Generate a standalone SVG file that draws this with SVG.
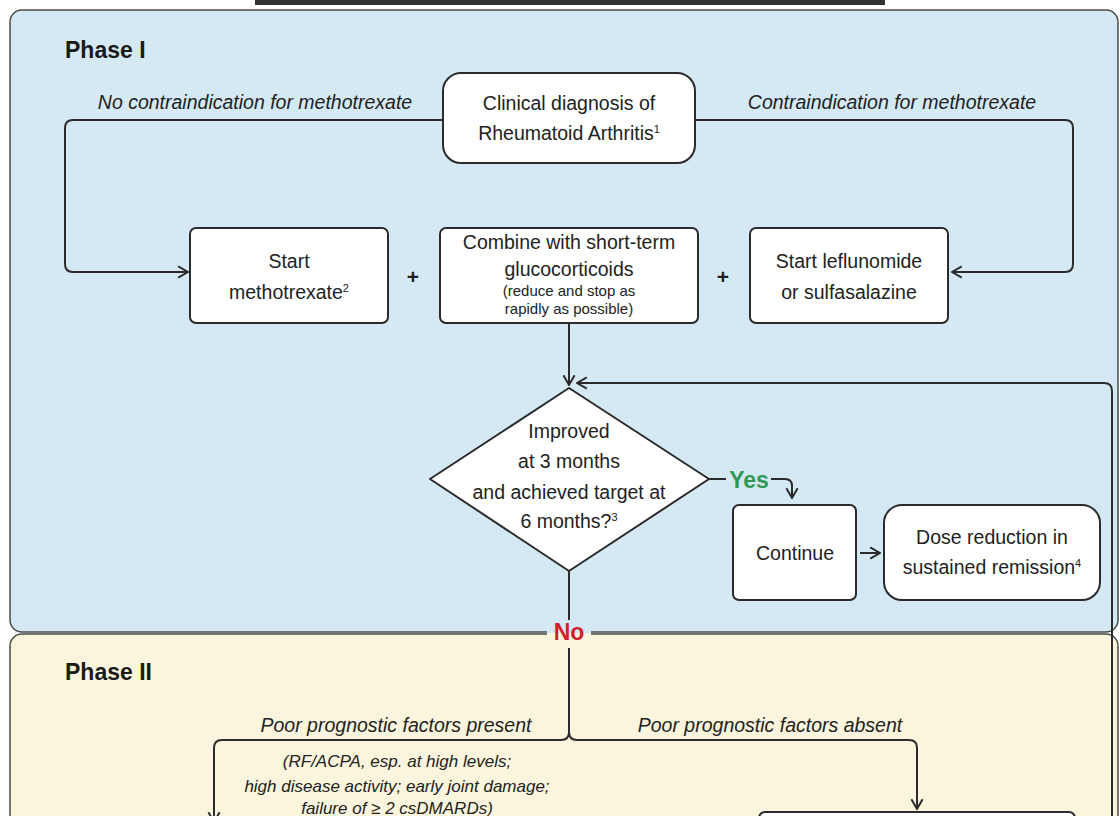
<svg xmlns="http://www.w3.org/2000/svg" width="1120" height="816" viewBox="0 0 1120 816">
<defs>
<style>
.panel1{fill:#d5e9f5;stroke:#4a4a4a;stroke-width:1.5}
.panel2{fill:#fbf5dd;stroke:#4a4a4a;stroke-width:1.5}
.box{fill:#ffffff;stroke:#2b2b2b;stroke-width:2}
.t{font-family:"Liberation Sans",Arial,sans-serif;font-size:19.5px;fill:#222;text-anchor:middle}
.s{font-family:"Liberation Sans",Arial,sans-serif;font-size:15px;fill:#222;text-anchor:middle}
.it{font-family:"Liberation Sans",Arial,sans-serif;font-size:19.5px;font-style:italic;fill:#222;text-anchor:middle}
.its{font-family:"Liberation Sans",Arial,sans-serif;font-size:17px;font-style:italic;fill:#222;text-anchor:middle}
.ph{font-family:"Liberation Sans",Arial,sans-serif;font-size:23px;font-weight:bold;fill:#1a1a1a}
.yes{font-family:"Liberation Sans",Arial,sans-serif;font-size:23px;font-weight:bold;fill:#2e9a55;text-anchor:middle}
.no{font-family:"Liberation Sans",Arial,sans-serif;font-size:23px;font-weight:bold;fill:#d11f2f;text-anchor:middle}
.plus{font-family:"Liberation Sans",Arial,sans-serif;font-size:21px;font-weight:bold;fill:#222;text-anchor:middle}
.sup{font-size:11px}
.ln{fill:none;stroke:#2b2b2b;stroke-width:2}
.arr{fill:none;stroke:#2b2b2b;stroke-width:2;marker-end:url(#ah)}
</style>
<marker id="ah" viewBox="0 0 10 10" refX="9" refY="5" markerWidth="14" markerHeight="14" markerUnits="userSpaceOnUse" orient="auto">
<path d="M2,1 L9,5 L2,9" fill="none" stroke="#2b2b2b" stroke-width="1.4"/>
</marker>
</defs>

<rect x="255" y="0" width="630" height="5" fill="#333"/>

<g id="phase1">
<rect class="panel1" x="10" y="10" width="1108" height="622" rx="12"/>
<text class="ph" x="65" y="58">Phase I</text>
</g>
<g id="phase2">
<rect class="panel2" x="10" y="634" width="1108" height="220" rx="12"/>
<text class="ph" x="65" y="680">Phase II</text>
</g>

<g id="connectors">
<path class="arr" d="M443,120 H73 Q65,120 65,128 V264 Q65,272 73,272 H188"/>
<path class="arr" d="M695,120 H1065 Q1073,120 1073,128 V264 Q1073,272 1065,272 H952"/>
<path class="arr" d="M569,323 V385"/>
<path class="arr" d="M1112,840 V391 Q1112,383 1104,383 H577"/>
<path class="ln" d="M709,479 H726"/>
<path class="arr" d="M771,479 H785 Q792,479 792,486 V498"/>
<path class="arr" d="M860,553 H880"/>
<path class="ln" d="M569,571 V620"/>
<path class="ln" d="M569,648 V732 Q569,740 561,740 H222 Q214,740 214,748 V805"/>
<path class="arr" d="M214,800 V822"/>
<path class="arr" d="M569,732 Q569,740 577,740 H909 Q917,740 917,748 V809"/>
</g>

<g id="lbl-nocontra"><text class="it" x="255" y="109">No contraindication for methotrexate</text></g>
<g id="lbl-contra"><text class="it" x="892" y="109">Contraindication for methotrexate</text></g>

<g id="diagnosis">
<rect class="box" x="443" y="73" width="252" height="90" rx="18"/>
<text class="t" x="569" y="110">Clinical diagnosis of</text>
<text class="t" x="569" y="140">Rheumatoid Arthritis<tspan class="sup" dy="-7">1</tspan></text>
</g>

<g id="methotrexate">
<rect class="box" x="190" y="228" width="198" height="95" rx="6"/>
<text class="t" x="289" y="268">Start</text>
<text class="t" x="289" y="299">methotrexate<tspan class="sup" dy="-7">2</tspan></text>
</g>

<g id="plus1"><text class="plus" x="413" y="284">+</text></g>

<g id="glucocorticoids">
<rect class="box" x="440" y="228" width="258" height="95" rx="6"/>
<text class="t" x="569" y="249">Combine with short-term</text>
<text class="t" x="569" y="276">glucocorticoids</text>
<text class="s" x="569" y="296">(reduce and stop as</text>
<text class="s" x="569" y="314">rapidly as possible)</text>
</g>

<g id="plus2"><text class="plus" x="723" y="284">+</text></g>

<g id="leflunomide">
<rect class="box" x="750" y="228" width="198" height="95" rx="6"/>
<text class="t" x="849" y="268">Start leflunomide</text>
<text class="t" x="849" y="299">or sulfasalazine</text>
</g>

<g id="decision">
<path class="box" stroke-linejoin="round" d="M569,388 L709,479 L569,571 L430,479 Z"/>
<text class="t" x="569" y="438">Improved</text>
<text class="t" x="569" y="468">at 3 months</text>
<text class="t" x="569" y="499">and achieved target at</text>
<text class="t" x="569" y="528">6 months?<tspan class="sup" dy="-7">3</tspan></text>
</g>

<g id="lbl-yes"><text class="yes" x="749" y="488">Yes</text></g>

<g id="continue">
<rect class="box" x="733" y="505" width="123" height="95" rx="6"/>
<text class="t" x="795" y="560">Continue</text>
</g>

<g id="dose-reduction">
<rect class="box" x="884" y="505" width="216" height="95" rx="18"/>
<text class="t" x="992" y="544">Dose reduction in</text>
<text class="t" x="992" y="574">sustained remission<tspan class="sup" dy="-7">4</tspan></text>
</g>

<g id="lbl-no">
<rect x="547" y="620" width="44" height="13" fill="#d5e9f5"/>
<rect x="547" y="633" width="44" height="15" fill="#fbf5dd"/>
<text class="no" x="569" y="640">No</text>
</g>

<g id="lbl-poor-present"><text class="it" x="396" y="732">Poor prognostic factors present</text></g>
<g id="lbl-poor-absent"><text class="it" x="770" y="732">Poor prognostic factors absent</text></g>
<g id="lbl-factors">
<text class="its" x="397" y="767">(RF/ACPA, esp. at high levels;</text>
<text class="its" x="397" y="792">high disease activity; early joint damage;</text>
<text class="its" x="397" y="814">failure of ≥ 2 csDMARDs)</text>
</g>

<g id="next-box">
<rect class="box" x="759" y="812" width="316" height="40" rx="6"/>
</g>
</svg>
